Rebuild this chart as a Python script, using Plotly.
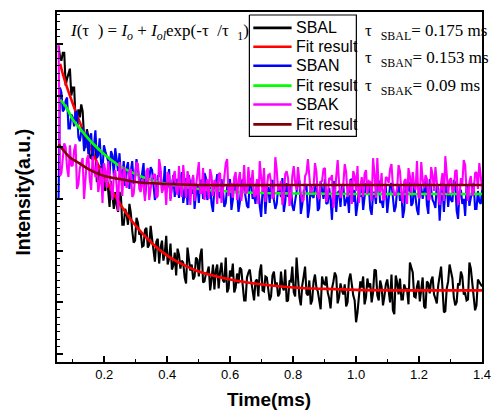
import numpy as np
import plotly.graph_objects as go

# ---- sampling grid (ms): samples "a" at t_start + k*t_step, samples "b" half a step later ----
t_start = 0.055
t_step = 0.009

# ---- measured decay curves (a.u.) ----
sbal_a = [318, 303, 311, 285, 295, 276, 243, 254, 259, 226, 234, 206, 211, 216, 183, 196, 179, 190, 156, 169,
          171, 151, 167, 138, 149, 159, 132, 122, 140, 130, 117, 135, 118, 124, 101, 124, 115, 102, 127, 104,
          93, 110, 114, 94, 100, 79, 105, 98, 86, 103, 107, 80, 89, 96, 83, 73, 98, 91, 82, 105,
          74, 86, 70, 89, 95, 77, 62, 90, 81, 62, 83, 91, 72, 86, 75, 66, 91, 80, 69, 76,
          93, 62, 81, 70, 105, 65, 77, 96, 67, 58, 81, 75, 63, 86, 78, 70, 54, 81, 86, 65,
          72, 78, 60, 89, 67, 40, 64, 75, 58, 84, 79, 70, 92, 62, 76, 66, 83, 60, 52, 87,
          68, 63, 78, 73, 100, 90, 65, 82, 75, 56, 81, 69, 86, 64, 77, 96, 50, 74, 98, 84,
          57, 79, 91, 68, 62, 100, 75, 52, 83, 78]
sbal_b = [307, 311, 278, 291, 268, 276, 243, 246, 252, 215, 227, 205, 219, 181, 196, 197, 172, 176, 182, 154,
          157, 171, 138, 154, 138, 150, 120, 145, 128, 116, 133, 115, 137, 113, 121, 99, 122, 110, 98, 119,
          97, 87, 108, 102, 85, 115, 92, 83, 105, 86, 114, 81, 90, 72, 98, 92, 74, 100, 80, 70,
          92, 99, 75, 79, 93, 62, 85, 93, 70, 81, 66, 98, 71, 85, 62, 87, 77, 66, 91, 72,
          61, 82, 96, 66, 78, 57, 86, 69, 82, 62, 88, 71, 53, 79, 86, 64, 74, 90, 59, 79,
          68, 56, 83, 77, 62, 50, 81, 86, 65, 75, 60, 93, 67, 82, 57, 78, 69, 88, 48, 80,
          84, 63, 73, 58, 95, 66, 76, 61, 85, 54, 79, 82, 68, 59, 87, 74, 51, 81, 91, 65,
          60, 77, 86, 69, 63, 94, 66, 57, 80, 76]

sban_a = [165, 271, 254, 266, 235, 246, 251, 226, 231, 212, 232, 226, 205, 233, 208, 200, 218, 208, 189, 208,
          215, 192, 186, 202, 195, 174, 202, 186, 193, 174, 200, 178, 184, 193, 163, 187, 192, 176, 171, 194,
          176, 166, 184, 180, 160, 185, 188, 169, 154, 178, 182, 164, 185, 170, 159, 177, 189, 165, 173, 160,
          177, 153, 181, 172, 161, 184, 165, 155, 178, 169, 181, 157, 172, 149, 176, 181, 163, 159, 173, 185,
          161, 166, 178, 152, 171, 182, 158, 174, 145, 177, 165, 179, 155, 170, 184, 160, 163, 181, 151, 172,
          176, 157, 167, 183, 161, 147, 175, 178, 164, 180, 154, 169, 159, 182, 162, 173, 150, 177, 166, 156,
          179, 171, 153, 175, 181, 160, 165, 148, 176, 172, 158, 184, 163, 155, 174, 167, 151, 178, 170, 161,
          180, 144, 173, 164, 177, 157, 175, 154, 172, 159]
sban_b = [276, 252, 263, 235, 249, 237, 252, 222, 236, 220, 209, 230, 218, 205, 225, 192, 212, 202, 212, 188,
          202, 210, 187, 177, 201, 192, 179, 204, 182, 190, 166, 193, 196, 179, 169, 187, 172, 197, 177, 164,
          188, 182, 165, 191, 169, 158, 177, 186, 170, 160, 183, 190, 163, 176, 151, 179, 168, 184, 156, 176,
          184, 163, 170, 151, 180, 176, 157, 185, 164, 159, 174, 146, 179, 171, 160, 183, 154, 176, 166, 151,
          180, 174, 157, 162, 185, 149, 172, 179, 155, 167, 177, 152, 182, 164, 159, 175, 143, 181, 170, 156,
          178, 163, 150, 184, 173, 158, 166, 153, 179, 176, 148, 171, 183, 160, 155, 177, 165, 180, 151, 174,
          162, 145, 181, 172, 157, 178, 153, 175, 164, 182, 149, 170, 160, 179, 142, 176, 173, 156, 163, 183,
          152, 171, 159, 147, 177, 165, 180, 154, 161, 174]

sbak_a = [320, 190, 220, 195, 218, 198, 219, 179, 201, 164, 204, 184, 207, 186, 171, 195, 200, 175, 187, 163,
          193, 152, 188, 196, 175, 192, 166, 185, 199, 171, 177, 192, 163, 185, 189, 167, 195, 174, 158, 187,
          180, 192, 168, 174, 198, 165, 185, 181, 162, 189, 170, 195, 176, 164, 187, 183, 159, 190, 172, 200,
          167, 180, 186, 163, 191, 174, 169, 196, 178, 166, 184, 202, 171, 161, 188, 181, 168, 193, 175, 158,
          189, 185, 165, 197, 173, 179, 162, 187, 204, 170, 176, 191, 164, 182, 195, 167, 184, 155, 188, 180,
          171, 199, 166, 183, 192, 172, 160, 186, 189, 169, 181, 205, 165, 174, 190, 163, 185, 194, 177, 168,
          198, 170, 182, 159, 187, 191, 173, 166, 201, 175, 184, 164, 188, 196, 169, 180, 162, 189, 183, 170,
          192, 158, 185, 203, 172, 181, 167, 190, 174, 187]
sbak_b = [187, 202, 216, 186, 197, 213, 174, 195, 205, 180, 208, 173, 194, 202, 180, 160, 193, 202, 172, 187,
          177, 201, 167, 191, 179, 194, 169, 201, 174, 184, 162, 195, 178, 188, 165, 204, 170, 180, 191, 162,
          186, 173, 197, 166, 181, 192, 158, 188, 177, 201, 170, 163, 184, 194, 167, 180, 189, 160, 187, 204,
          174, 165, 191, 183, 162, 198, 171, 179, 193, 168, 159, 186, 195, 175, 189, 164, 206, 172, 182, 166,
          192, 157, 187, 180, 196, 169, 163, 190, 184, 174, 200, 167, 181, 194, 161, 185, 188, 170, 203, 165,
          179, 191, 173, 159, 187, 197, 176, 166, 193, 182, 162, 189, 205, 171, 164, 186, 180, 199, 168, 175,
          192, 160, 184, 195, 170, 177, 202, 165, 183, 188, 163, 196, 172, 181, 158, 190, 207, 169, 185, 174,
          193, 166, 179, 198, 162, 187, 171, 191, 200, 173]

# ---- fit results (a.u.) ----
fit_sbal_t = [0.06, 0.07, 0.08, 0.10, 0.12, 0.15, 0.20, 0.25, 0.30, 0.35, 0.40, 0.45, 0.50, 0.60, 0.70, 0.80, 0.90, 1.00, 1.20, 1.40]
fit_sbal_y = [300, 288, 278, 260, 243, 220, 186, 159, 137, 120, 107, 98, 91, 83, 78, 75, 73.5, 72.5, 72, 72]

fit_sban_t = [0.06, 0.08, 0.10, 0.13, 0.16, 0.20, 0.25, 0.30, 0.35, 0.40, 0.50, 0.60, 0.70, 0.80, 1.00, 1.40]
fit_sban_y = [264, 256, 244, 232, 221, 209, 197, 189, 183, 179, 174, 171.5, 170, 169.5, 169, 169]

fit_sbak_t = [0.055, 0.07, 0.09, 0.12, 0.15, 0.20, 0.25, 0.30, 0.40, 0.50, 0.80, 1.40]
fit_sbak_y = [219, 213, 206, 200, 194, 187, 184, 181, 179, 178, 178, 178]

x_ticks = [0.2, 0.4, 0.6, 0.8, 1.0, 1.2, 1.4]
x_tick_labels = ["0.2", "0.4", "0.6", "0.8", "1.0", "1.2", "1.4"]
x_minor_ticks = [0.1, 0.3, 0.5, 0.7, 0.9, 1.1, 1.3]

series_names = ["SBAL", "Fit result", "SBAN", "Fit result", "SBAK", "Fit result"]
series_colors = ["#000000", "#FF0000", "#0000FF", "#00FF00", "#FF00FF", "#800000"]
tau_names = ["SBAL", "SBAN", "SBAK"]
tau_values = ["0.175", "0.153", "0.09"]


def merge(a, b):
    n = min(len(a), len(b))
    ta = t_start + t_step * np.arange(n)
    t = np.empty(2 * n)
    y = np.empty(2 * n)
    t[0::2] = ta
    t[1::2] = ta + t_step / 2
    y[0::2] = a[:n]
    y[1::2] = b[:n]
    return np.round(t, 5), y


L, R, T, B = 57, 11, 10, 55
W, H = 501, 417
pw, ph = W - L - R, H - T - B


def px(xp):
    return (xp - L) / pw


def py(yp):
    return (H - B - yp) / ph


fig = go.Figure()
data_sets = [(sbal_a, sbal_b, fit_sbal_t, fit_sbal_y),
             (sban_a, sban_b, fit_sban_t, fit_sban_y),
             (sbak_a, sbak_b, fit_sbak_t, fit_sbak_y)]
for i, (a, b, ft, fy) in enumerate(data_sets):
    t, y = merge(a, b)
    fig.add_trace(go.Scatter(x=t, y=y, mode="lines", name=series_names[2 * i], showlegend=False,
                             line=dict(color=series_colors[2 * i], width=2.1)))
    fig.add_trace(go.Scatter(x=ft, y=fy, mode="lines", name=series_names[2 * i + 1], showlegend=False,
                             line=dict(color=series_colors[2 * i + 1], width=2.6, shape="spline")))

# legend frame on an overlay axis measured in page pixels
box_l, box_r, box_t, box_b = 253, 362, 13, 135
fig.add_trace(go.Scatter(x=[box_l, box_r, box_r, box_l, box_l], y=[box_t, box_t, box_b, box_b, box_t],
                         xaxis="x2", yaxis="y2", mode="lines", fill="toself", fillcolor="white",
                         line=dict(color="black", width=1.2), showlegend=False, hoverinfo="skip"))

serif = "Liberation Serif, Times New Roman, serif"
sans = "Liberation Sans, Arial, sans-serif"

annotations = [
    dict(text="<b>Time(ms)</b>", x=px(273), y=py(400), xref="paper", yref="paper",
         showarrow=False, font=dict(family=sans, size=19, color="black"), xanchor="center", yanchor="middle"),
    dict(text="<b>Intensity(a.u.)</b>", x=px(22), y=py(191), xref="paper", yref="paper",
         showarrow=False, textangle=-90, font=dict(family=sans, size=19.5, color="black"),
         xanchor="center", yanchor="middle"),
    dict(text="<i>I</i>(τ\u00a0\u00a0) = <i>I</i><sub><i>o</i></sub> + <i>I</i><sub><i>ol</i></sub>exp(-τ\u00a0\u00a0/τ\u00a0\u00a0<sub>1</sub>)",
         x=px(68), y=py(30), xref="paper", yref="paper", showarrow=False,
         font=dict(family=serif, size=17, color="black"), xanchor="left", yanchor="middle"),
]
for name, val, ypix in zip(tau_names, tau_values, [30, 57, 85]):
    annotations.append(dict(text=f"τ<sub>\u00a0\u00a0\u00a0{name}</sub>= {val} ms", x=px(369), y=py(ypix),
                            xref="paper", yref="paper", showarrow=False,
                            font=dict(family=serif, size=17, color="black"),
                            xanchor="left", yanchor="middle"))

shapes = []
row_y = [26, 45, 64, 84, 103, 123]
for name, col, ry in zip(series_names, series_colors, row_y):
    shapes.append(dict(type="line", xref="paper", yref="paper", x0=px(257), x1=px(296), y0=py(ry), y1=py(ry),
                       line=dict(color=col, width=2.6), layer="above"))
    annotations.append(dict(text=name, x=px(298), y=py(ry), xref="paper", yref="paper", showarrow=False,
                            font=dict(family=sans, size=16, color="black"), xanchor="left", yanchor="middle"))

fig.update_layout(
    width=W, height=H,
    margin=dict(l=L, r=R, t=T, b=B),
    paper_bgcolor="white", plot_bgcolor="white",
    showlegend=False,
    annotations=annotations,
    shapes=shapes,
    xaxis=dict(range=[0.05, 1.4], showgrid=False, zeroline=False,
               showline=True, linecolor="black", linewidth=1.5, mirror=True,
               ticks="inside", ticklen=6, tickwidth=1.5, tickcolor="black",
               tickmode="array", tickvals=x_ticks, ticktext=x_tick_labels,
               tickprefix="<b>", ticksuffix="</b>",
               tickfont=dict(family=sans, size=13, color="black"),
               minor=dict(ticks="inside", ticklen=3, tickwidth=1.2, tickcolor="black",
                          tickmode="array", tickvals=x_minor_ticks)),
    yaxis=dict(range=[0, 352], showgrid=False, zeroline=False,
               showline=True, linecolor="black", linewidth=1.5, mirror=True,
               ticks="inside", ticklen=6, tickwidth=1.5, tickcolor="black",
               tick0=60, dtick=52, showticklabels=False,
               minor=dict(ticks="inside", ticklen=3, tickwidth=1.2, tickcolor="black",
                          tick0=60, dtick=52 / 7)),
    xaxis2=dict(overlaying="x", anchor="y2", range=[L, W - R], visible=False, fixedrange=True),
    yaxis2=dict(overlaying="y", anchor="x2", range=[H - B, T], visible=False, fixedrange=True),
)

fig.write_html("out.html", config={"displayModeBar": False},
               post_script="document.body.style.margin='0px';")
